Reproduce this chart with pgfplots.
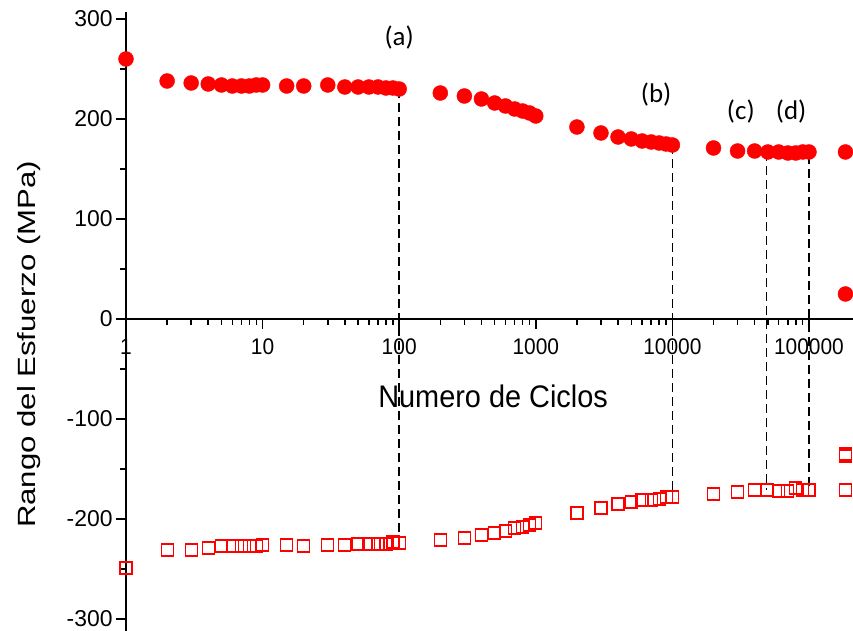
\documentclass[border=0pt]{standalone}
\usepackage{fontspec}
\setmainfont{Liberation Sans}
\newfontfamily\calib{Carlito}
\usepackage{pgfplots}
\pgfplotsset{compat=1.18}
\pgfplotstableread{
x y
1 260
2 238
3 236
4 235
5 234
6 233
7 233
8 233
9 234
10 234
15 233
20 233
30 234
40 232
50 232
60 232
70 232
80 231
90 231
100 230
200 226
300 223
400 220
500 216
600 213
700 210
800 208
900 206
1000 203
2000 192
3000 186
4000 182
5000 180
6000 178
7000 177
8000 176
9000 175
10000 174
20000 171
30000 168
40000 168
50000 167
60000 167
70000 166
80000 166
90000 167
100000 167
185000 167
185000 25
}\circles
\pgfplotstableread{
x y
1 -249
2 -231
3 -231
4 -229
5 -227
6 -227
7 -227
8 -227
9 -227
10 -226
15 -226
20 -227
30 -226
40 -226
50 -225
60 -225
70 -225
80 -225
90 -223
100 -224
200 -221
300 -219
400 -216
500 -214
600 -212
700 -209
800 -208
900 -206
1000 -204
2000 -194
3000 -189
4000 -185
5000 -183
6000 -181
7000 -181
8000 -180
9000 -178
10000 -178
20000 -175
30000 -173
40000 -171
50000 -171
60000 -172
70000 -172
80000 -169
90000 -171
100000 -171
185000 -171
185000 -137
185000 -135
}\squares
\newcommand{\xl}[1]{\scalebox{1}[1.08]{#1}}
\begin{document}
\begin{tikzpicture}
\begin{axis}[name=ax,
  xmode=log, xmin=1, xmax=210000, ymin=-312, ymax=307,
  width=727bp, height=619bp, scale only axis,
  axis x line=middle, axis y line=left,
  axis line style={-, line width=1.6pt},
  tick align=outside,
  hide obscured x ticks=false, hide obscured y ticks=false,
  major tick length=10bp, minor tick length=6bp,
  tick style={black, line width=1.5pt},
  xtick={1,10,100,1000,10000,100000},
  xticklabels={\xl{1},\xl{10},\xl{100},\xl{1000},\xl{10000},\xl{100000}},
  ytick={-300,-200,-100,0,100,200,300},
  yticklabels={-300,-200,-100,0,100,200,300},
  minor y tick num=1,
  xticklabel style={font=\fontsize{21}{21}\selectfont, yshift=-6bp},
  yticklabel style={font=\fontsize{23}{23}\selectfont},
  clip mode=individual,
]
\addplot[black, line width=1.6pt, dash pattern=on 9bp off 5bp] coordinates {(100,230) (100,-222)};
\addplot[black, line width=1.6pt, dash pattern=on 9bp off 5bp] coordinates {(10000,174) (10000,-177)};
\addplot[black, line width=1.6pt, dash pattern=on 9bp off 5bp] coordinates {(49000,167) (49000,-171)};
\addplot[black, line width=1.6pt, dash pattern=on 9bp off 5bp] coordinates {(100000,164) (100000,-167)};
\addplot[only marks, mark=*, mark size=7.5bp, color=red, mark options={draw=red, fill=red}] table {\circles};
\addplot[only marks, mark=square, mark size=6bp, color=red, mark options={draw=red, fill=none, line width=1.2pt}] table {\squares};
\node[font=\calib\fontsize{27}{27}\selectfont] at (axis cs:100,281) {(a)};
\node[font=\calib\fontsize{27}{27}\selectfont] at (axis cs:7600,224) {(b)};
\node[font=\calib\fontsize{27}{27}\selectfont] at (axis cs:31700,207) {(c)};
\node[font=\calib\fontsize{27}{27}\selectfont] at (axis cs:74000,207) {(d)};
\node[font=\fontsize{29}{29}\selectfont] at (axis cs:487,-77) {\scalebox{1}[1.08]{Numero de Ciclos}};
\end{axis}
\node[rotate=90, font=\fontsize{25}{25}\selectfont] at ([xshift=-97bp, yshift=-23bp]ax.west) {\scalebox{1.25}[1]{Rango del Esfuerzo (MPa)}};
\pgfresetboundingbox
\path ([xshift=-126bp]ax.south west) rectangle ([yshift=12bp]ax.north east);
\end{tikzpicture}
\end{document}
